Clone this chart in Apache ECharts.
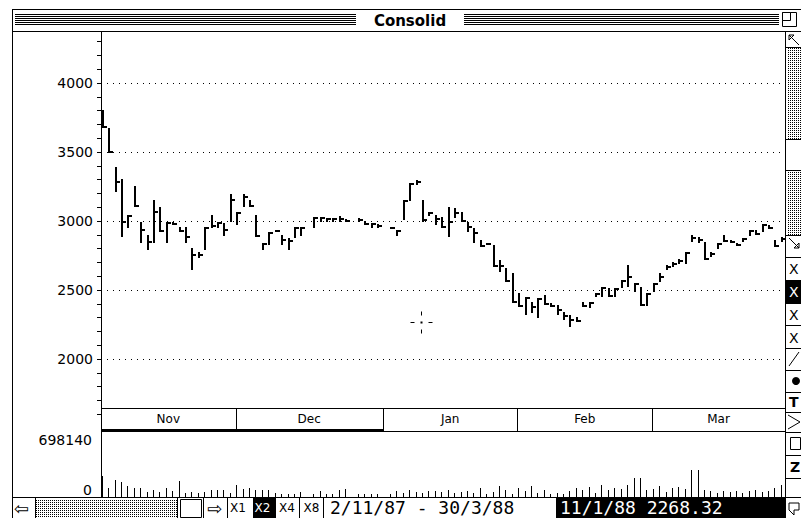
<!DOCTYPE html>
<html><head><meta charset="utf-8">
<script src="https://cdn.jsdelivr.net/npm/echarts@6/dist/echarts.min.js"></script>
<style>html,body{margin:0;padding:0;background:#fff;}#c{width:801px;height:518px;}</style>
</head><body><div id="c"></div>
<script>
// ---------------- DATA ----------------
const windowTitle = 'Consolid';
const rangeText = '2/11/87 - 30/3/88';
const cursorText = '11/1/88 2268.32';
const cursorPoint = ['11/1/88', 2268.32];
const zoomButtons = ['X1', 'X2', 'X4', 'X8'];
const priceGridValues = [2000, 2500, 3000, 3500, 4000];
const volumeTickValues = [0, 698140];

const high = [3804,3674,3391,3304,3043,3254,2993,2899,3152,3101,2993,2993,2957,2957,2804,2775,2957,3043,2993,2986,
  3196,3065,3196,3152,3043,2841,2920,2935,2899,2877,2957,2957,null,3029,3029,3022,3022,3036,3015,null,
  3022,3000,2986,2978,null,2960,2935,3152,3275,3297,3152,3065,3043,3029,3101,3094,3065,2993,2949,2862,
  2841,2826,2717,2659,2623,2478,2449,2413,2442,2464,2406,2391,2341,2319,2304,2413,2413,2478,2522,2514,
  2514,2572,2681,2551,2522,2478,2551,2623,2681,2703,2725,2775,2899,2884,2848,2775,2841,2899,2862,2841,
  2877,2935,2935,2978,2971,2862,2884,null];
const low = [3674,3493,3210,2884,2949,3101,2841,2790,2841,2920,2841,2971,2920,2841,2645,2732,2790,2949,2949,2891,
  2993,2971,3101,3101,2884,2790,2826,2920,2826,2790,2877,2891,null,2949,2993,2993,2993,2993,2993,null,
  2993,2971,2949,2949,null,2955,2891,3007,3145,3261,2993,3036,2971,2949,2884,3022,2993,2920,2841,2812,
  2826,2667,2630,2558,2406,2377,2319,2333,2297,2391,2377,2319,2283,2232,2268,2377,2370,2449,2449,2449,
  2449,2514,2522,2486,2384,2384,2486,2558,2645,2667,2688,2688,2848,2841,2717,2739,2797,2848,2841,2819,
  2848,2891,2899,2920,2942,2812,2848,null];
const close = [3681,3493,3283,2993,3036,3101,2935,2848,3065,2920,2993,2978,2920,2884,2754,2754,2957,2964,2993,2935,
  3152,3065,3174,3101,2884,2833,2920,2928,2862,2855,2949,2949,null,3022,3022,3015,3015,3015,2993,null,
  3007,2971,2986,2964,null,2957,2935,3152,3275,3283,3007,3058,3015,2949,2993,3058,2993,2957,2913,2812,
  2833,2667,2674,2558,2406,2377,2449,2377,2442,2391,2377,2355,2312,2283,2268,2384,2406,2471,2514,2449,
  2507,2565,2594,2543,2384,2471,2543,2594,2667,2688,2710,2768,2877,2862,2717,2761,2833,2848,2848,2826,
  2870,2928,2899,2971,2942,2812,2870,null];
const volume = [293000,126000,237000,209000,154000,126000,126000,70000,98000,70000,126000,84000,223000,56000,70000,56000,70000,98000,98000,98000,
  56000,168000,112000,126000,98000,98000,98000,56000,42000,42000,42000,70000,null,42000,84000,42000,42000,98000,112000,null,
  42000,42000,42000,42000,null,42000,84000,56000,98000,70000,56000,84000,84000,70000,98000,56000,70000,84000,56000,126000,
  42000,70000,154000,98000,42000,126000,84000,154000,56000,98000,42000,56000,42000,84000,126000,98000,140000,56000,168000,98000,
  126000,112000,168000,266000,266000,98000,112000,154000,70000,126000,140000,112000,377000,377000,98000,84000,56000,84000,70000,84000,
  56000,84000,98000,70000,84000,126000,168000,null];

// weekday categories from 2/11/87 to 30/3/88
const dates = [];
for (let d = new Date(1987, 10, 2); d <= new Date(1988, 2, 30); d.setDate(d.getDate() + 1)) {
  const w = d.getDay();
  if (w > 0 && w < 6) dates.push(d.getDate() + '/' + (d.getMonth() + 1) + '/' + (d.getFullYear() % 100));
}
const monthNames = ['Jan','Feb','Mar','Apr','May','Jun','Jul','Aug','Sep','Oct','Nov','Dec'];

// ---------------- LAYOUT ----------------
const FONT = 'DejaVu Sans';
const MONO = 'DejaVu Sans Mono';
const PLOT_L = 101, PLOT_W = 692;
const PX_PER_100 = 13.8;
const P_MIN = 1600, P_MAX = 4300;
const P_TOP = 83 - 3 * PX_PER_100;
const P_H = (P_MAX - P_MIN) / 100 * PX_PER_100;
const V_TOP = 432, V_H = 65;

const ohlc = [];
dates.forEach((d, i) => { if (high[i] != null) ohlc.push([i, high[i], low[i], close[i]]); });
const vol = [];
dates.forEach((d, i) => { if (volume[i] != null) vol.push([i, volume[i]]); });

function renderPrice(params, api) {
  const i = api.value(0);
  const pH = api.coord([i, api.value(1)]);
  const pL = api.coord([i, api.value(2)]);
  const pC = api.coord([i, api.value(3)]);
  const x = Math.round(pH[0] - 2.5);
  const yT = Math.round(pH[1]);
  const yB = Math.max(Math.round(pL[1]), yT + 2);
  const yC = Math.min(Math.max(Math.round(pC[1]) - 1, yT), yB - 2);
  return { type: 'group', children: [
    { type: 'rect', shape: { x: x, y: yT, width: 2, height: yB - yT }, style: { fill: '#000' } },
    { type: 'rect', shape: { x: x + 2, y: yC, width: 3, height: 2 }, style: { fill: '#000' } }
  ]};
}
function renderVol(params, api) {
  const i = api.value(0);
  const p = api.coord([i, api.value(1)]);
  const b = api.coord([i, 0]);
  const x = Math.round(p[0] - 2.5);
  return { type: 'rect', shape: { x: x, y: Math.round(p[1]), width: 1, height: Math.round(b[1]) - Math.round(p[1]) }, style: { fill: '#000' } };
}

const chart = echarts.init(document.getElementById('c'), null, { renderer: 'svg' });
chart.setOption({
  animation: false,
  backgroundColor: '#fff',
  grid: [
    { left: PLOT_L, top: P_TOP, width: PLOT_W, height: P_H },
    { left: PLOT_L, top: V_TOP, width: PLOT_W, height: V_H }
  ],
  xAxis: [
    { type: 'category', data: dates, gridIndex: 0, show: false, boundaryGap: true },
    { type: 'category', data: dates, gridIndex: 1, show: false, boundaryGap: true }
  ],
  yAxis: [
    { type: 'value', gridIndex: 0, min: P_MIN, max: P_MAX, interval: 100,
      axisLine: { show: false },
      axisTick: { show: true, length: 4, lineStyle: { color: '#000', width: 1 } },
      axisLabel: { color: '#000', fontFamily: FONT, fontSize: 14, margin: 8,
        formatter: v => (v % 500 === 0 ? String(v) : '') },
      splitLine: { show: false } },
    { type: 'value', gridIndex: 1, min: 0, max: 907582, interval: 698140,
      axisLine: { show: false }, axisTick: { show: false }, splitLine: { show: false },
      axisLabel: { color: '#000', fontFamily: FONT, fontSize: 14, margin: 9, verticalAlign: 'bottom',
        showMaxLabel: false,
        formatter: v => (volumeTickValues.indexOf(v) >= 0 ? String(v) : '') } }
  ],
  series: [
    { type: 'custom', xAxisIndex: 0, yAxisIndex: 0, data: ohlc, renderItem: renderPrice, silent: true, z: 5,
      markLine: { silent: true, symbol: 'none', animation: false, label: { show: false },
        lineStyle: { color: '#000', width: 1, type: [1, 5] },
        data: priceGridValues.map(v => ({ yAxis: v })) } },
    { type: 'custom', xAxisIndex: 1, yAxisIndex: 1, data: vol, renderItem: renderVol, silent: true, z: 5 }
  ]
});

// ---------------- CHROME ----------------
function stipple() {
  const c = document.createElement('canvas'); c.width = 2; c.height = 2;
  const g = c.getContext('2d'); g.fillStyle = '#fff'; g.fillRect(0, 0, 2, 2);
  g.fillStyle = '#000'; g.fillRect(0, 0, 1, 1);
  return { image: c.toDataURL(), repeat: 'repeat' };
}
const pat = stipple();
const G = [];
const Z = 100;
function line(x1, y1, x2, y2, w) { G.push({ type: 'line', z: Z + 2, shape: { x1, y1, x2, y2 }, style: { stroke: '#000', lineWidth: w || 1 } }); }
function poly(points, fill) { G.push({ type: fill ? 'polygon' : 'polyline', z: Z + 2, shape: { points }, style: { stroke: '#000', fill: fill || null, lineWidth: 1 } }); }
function rect(x, y, w, h, fill, stroke, z) { G.push({ type: 'rect', z: z || Z, shape: { x, y, width: w, height: h }, style: { fill: fill, stroke: stroke || null, lineWidth: 1 } }); }
function text(t, x, y, opt) { G.push(Object.assign({ type: 'text', z: Z + 3, style: Object.assign({ text: t, x, y, fill: '#000', font: '13px ' + FONT, textAlign: 'left', textVerticalAlign: 'middle' }, opt || {}) })); }

// window frame & title bar
rect(0, 0, 801, 31, '#fff', null, Z - 1);
line(12.5, 9, 12.5, 518);
line(12, 9.5, 801, 9.5);
for (let k = 0; k < 6; k++) {
  line(15, 14.5 + 2 * k, 356, 14.5 + 2 * k);
  line(464, 14.5 + 2 * k, 779, 14.5 + 2 * k);
}
text(windowTitle, 410, 20.5, { font: 'bold 15px ' + FONT, textAlign: 'center' });
rect(782.5, 12.5, 14, 14, '#fff', '#000');
rect(782.5, 12.5, 8, 8, '#fff', '#000');
line(12, 31.5, 801, 31.5);
// price axis line
line(101.5, 32, 101.5, 497);

// month band
const cell = PLOT_W / dates.length;
const months = [];
dates.forEach((d, i) => {
  const m = +d.split('/')[1];
  if (!months.length || months[months.length - 1].m !== m) months.push({ m, s: i, e: i + 1 });
  else months[months.length - 1].e = i + 1;
});
rect(101, 408, 700, 24, '#fff', null, Z - 1);
line(101, 408.5, 785, 408.5);
months.forEach((mo, k) => {
  const x0 = chart.convertToPixel({ xAxisIndex: 0 }, mo.s) - cell / 2;
  const x1 = chart.convertToPixel({ xAxisIndex: 0 }, mo.e - 1) + cell / 2;
  if (k > 0) line(Math.round(x0) + 0.5, 408, Math.round(x0) + 0.5, 431);
  text(monthNames[mo.m - 1], (x0 + Math.min(x1, 785)) / 2, 419, { textAlign: 'center', font: '12px ' + FONT });
});
const selEnd = Math.round(chart.convertToPixel({ xAxisIndex: 0 }, months[1].e - 1) + cell / 2);
rect(101, 429, selEnd - 101, 3, '#000', null, Z + 1);
line(selEnd, 431.5, 785, 431.5);

// right palette
rect(785, 31, 16, 487, '#fff', null, Z);
line(785.5, 31, 785.5, 518);
poly([[799, 45], [789, 35], [789, 40], [794, 35], [789, 35]]);
rect(787, 48, 14, 91, pat, null, Z + 1);
rect(787, 171, 14, 64, pat, null, Z + 1);
line(786, 47.5, 801, 47.5); line(786, 139.5, 801, 139.5); line(786, 170.5, 801, 170.5); line(786, 235.5, 801, 235.5);
poly([[789, 238], [799, 248], [799, 243], [794, 248], [799, 248]]);
[257, 280, 303, 325, 348, 370, 392, 412, 432, 455, 478].forEach(y => line(786, y + 0.5, 801, y + 0.5));
rect(786, 281, 15, 22, '#000', null, Z + 1);
['X', 'X', 'X', 'X'].forEach((t, k) => text(t, 789, 269 + 23 * k, { font: '14px ' + FONT, fill: k === 1 ? '#fff' : '#000' }));
line(789, 366, 799, 352);
G.push({ type: 'circle', z: Z + 3, shape: { cx: 796, cy: 381, r: 4 }, style: { fill: '#000' } });
text('T', 789, 402, { font: 'bold 14px ' + FONT });
poly([[788, 415], [800, 422], [788, 429]]);
rect(790.5, 437.5, 10, 12, '#fff', '#000', Z + 2);
text('Z', 790, 467, { font: 'bold 14px ' + FONT });
poly([[789, 503], [799, 503], [799, 510], [794, 510], [794, 515], [789, 510], [789, 503]]);

// bottom bar
rect(0, 497, 801, 21, '#fff', null, Z);
line(12, 497.5, 801, 497.5);
rect(36, 499, 141, 19, pat, null, Z + 1);
line(35.5, 498, 35.5, 518); line(177.5, 498, 177.5, 518);
rect(180.5, 499.5, 21, 18, '#fff', '#000', Z + 1);
line(203.5, 498, 203.5, 518); line(227.5, 498, 227.5, 518);
text('\u21E6', 14, 508, { font: '18px ' + FONT });
text('\u21E8', 207, 508, { font: '18px ' + FONT });
rect(253, 498, 23, 20, '#000', null, Z + 1);
zoomButtons.forEach((t, k) => text(t, 230 + 24.5 * k, 508, { font: '12px ' + FONT, fill: k === 1 ? '#fff' : '#000' }));
line(299.5, 498, 299.5, 518); line(323.5, 498, 323.5, 518);
text(rangeText, 330, 507.5, { font: '18px ' + MONO });
rect(556, 498, 229, 20, '#000', null, Z + 1);
text(cursorText, 560, 507.5, { font: '18px ' + MONO, fill: '#fff' });

// cursor crosshair at the read-out point
const cp = chart.convertToPixel({ xAxisIndex: 0, yAxisIndex: 0 }, [dates.indexOf('11/1/88'), cursorPoint[1]]);
const cx = Math.round(cp[0] - cell / 2) + 0.5, cy = Math.round(cp[1]) + 0.5;
line(cx - 11, cy, cx - 7, cy); line(cx + 7, cy, cx + 11, cy);
line(cx, cy - 11, cx, cy - 7); line(cx, cy + 7, cx, cy + 11);
rect(cx - 1, cy - 1, 2, 2, '#000', null, Z + 3);

chart.setOption({ graphic: { elements: G } });
</script></body></html>
